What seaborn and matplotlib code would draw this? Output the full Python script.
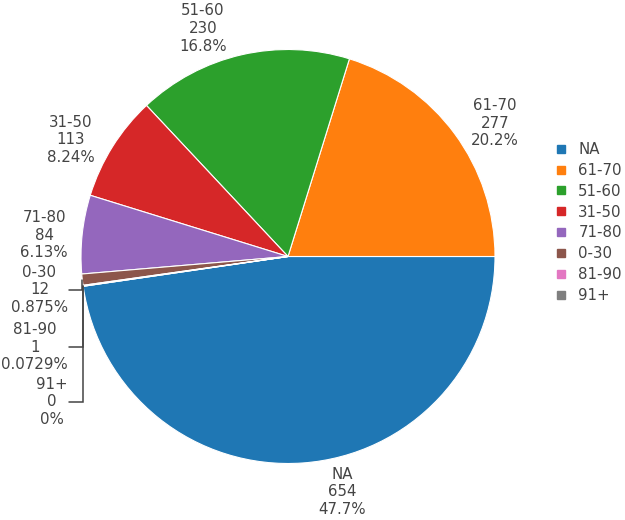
import numpy as np
import matplotlib
matplotlib.use("Agg")
import matplotlib.pyplot as plt
from matplotlib.lines import Line2D
import seaborn as sns

# ---- data ----
categories = ['NA', '61-70', '51-60', '31-50', '71-80', '0-30', '81-90', '91+']
counts = [654, 277, 230, 113, 84, 12, 1, 0]

sns.set_theme(style="white")
plt.rcParams['font.family'] = ['DejaVu Sans']
colors = sns.color_palette("tab10", len(categories))
TXT = '#444444'
FS = 10.8
LSP = 1.23

W, H = 625, 520
fig = plt.figure(figsize=(W / 100, H / 100), dpi=100)
CX, CY, R = 288.0, 256.5, 207.0
ax = fig.add_axes([(CX - R) / W, (H - CY - R) / H, 2 * R / W, 2 * R / H])

total = sum(counts)
start = -360.0 * counts[0] / total
wedges, _ = ax.pie(counts, colors=colors, startangle=start, counterclock=True,
                   radius=1.0, wedgeprops=dict(edgecolor='white', linewidth=0.8))
ax.set_xlim(-1, 1)
ax.set_ylim(-1, 1)
ax.set_aspect('auto')
ax.axis('off')


def px2d(px, py):
    return (px - CX) / R, (CY - py) / R


def pct(v):
    return f"{100.0 * v / total:.3g}%"


texts = [f"{c}\n{v}\n{pct(v)}" for c, v in zip(categories, counts)]

# label layout (pixel positions of middle line), big slices centered
big_pos = {0: (342, 492), 1: (495, 123), 2: (203, 28.5), 3: (71, 140), }
for i, (px, py) in big_pos.items():
    x, y = px2d(px, py)
    ax.text(x, y, texts[i], ha='center', va='center', fontsize=FS, color=TXT,
            linespacing=LSP, multialignment='center')

# right-aligned left-side labels (71-80 and small slices with leaders)
right_edge = 68
left_labels = {4: 235, 5: 290, 6: 347, 7: 402}
for i, py in left_labels.items():
    x, y = px2d(right_edge, py)
    ax.text(x, y, texts[i], ha='right', va='center', fontsize=FS, color=TXT,
            linespacing=LSP, multialignment='center')
    if i >= 5:
        w = wedges[i]
        mid = np.deg2rad((w.theta1 + w.theta2) / 2)
        ex, ey = np.cos(mid), np.sin(mid)
        lx, _ = px2d(right_edge + 1, py)
        ax.add_line(Line2D([ex, ex, lx], [ey, y, y], color=TXT, lw=1.1,
                           clip_on=False, solid_joinstyle='miter'))

handles = [Line2D([], [], marker='s', linestyle='none', markersize=5.5,
                  markerfacecolor=c, markeredgecolor=c) for c in colors]
leg = fig.legend(handles, categories, loc='upper left',
                 bbox_to_anchor=(555 / W, 1 - 142 / H), frameon=False,
                 fontsize=FS, handlelength=0.8, handletextpad=0.75,
                 labelspacing=0.39, borderpad=0, borderaxespad=0)
for t in leg.get_texts():
    t.set_color(TXT)

fig.savefig("out.png", dpi=100)
